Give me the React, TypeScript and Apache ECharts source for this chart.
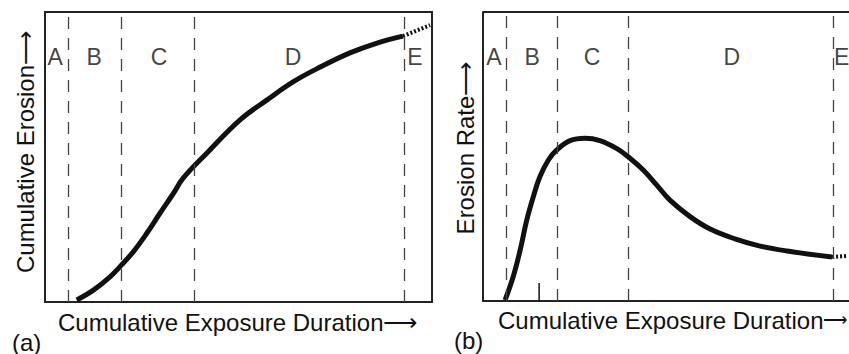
import React, { useEffect, useRef } from "react";
import * as echarts from "echarts";

// Panel (a): cumulative erosion curve (axis units 0..100)
const aCurveX = [8.2, 12.5, 16.8, 19.8, 22.8, 26.3, 29.7, 33.2, 35.7, 41.8, 50.4, 57.4, 64.1, 71.1, 78.8, 85.8, 92.5];
const aCurveY = [0.7, 4.1, 8.7, 12.8, 17.3, 23.7, 30.6, 37.5, 42.7, 51.3, 62.8, 69.7, 75.9, 81.0, 85.9, 89.3, 91.7];
const aTailX = [92.5, 99.5];
const aTailY = [91.7, 95.5];
const aBounds = [5.9, 19.6, 38.5, 92.8];
const aStageX = [2.6, 12.7, 29.5, 64.1, 95.6];
const stageY = 84.6;

// Panel (b): erosion rate curve (right part of the frame is cut off by the page edge)
const bCurveX = [5.7, 7.8, 9.6, 11.3, 13.0, 14.7, 16.9, 19.0, 22.5, 26.4, 30.2, 34.5, 37.5, 41.4, 44.9, 48.3, 53.5, 58.7, 65.1, 71.6, 78.6, 90.2];
const bCurveY = [0.3, 8.4, 17.6, 28.0, 36.1, 43.0, 48.8, 52.2, 55.5, 56.3, 55.5, 52.8, 49.9, 45.3, 40.1, 34.9, 29.2, 24.9, 21.5, 19.0, 17.3, 15.2];
const bTailX = [90.2, 94.1];
const bTailY = [15.2, 15.6];
const bBounds = [5.9, 19.1, 37.5, 90.4];
const bStageX = [2.8, 12.7, 28.2, 64.3, 92.7];
const bTickX = 14.5;
const bTickTop = 6.2;
const bVisibleMax = 94.57;

const stageNames = ["A", "B", "C", "D", "E"];

const FONT = "'Liberation Sans', Arial, Helvetica, sans-serif";
const INK = "#111";

function zip(xs: number[], ys: number[]) {
  return xs.map((x, i) => [x, ys[i]]);
}

export default function App() {
  const ref = useRef<HTMLDivElement>(null);
  useEffect(() => {
    if (!ref.current) return;
    const chart = echarts.init(ref.current, null, { renderer: "svg" });
    const baseAxis = {
      type: "value",
      min: 0,
      axisTick: { show: false },
      axisLabel: { show: false },
      splitLine: { show: false },
    };
    const dashLines = (bounds: number[]) => ({
      silent: true,
      symbol: "none",
      label: { show: false },
      lineStyle: { color: "#444", width: 1.3, type: [12, 9] },
      data: bounds.map((b) => ({ xAxis: b })),
    });
    const stageSeries = (xs: number[], idx: number) => ({
      type: "scatter",
      xAxisIndex: idx,
      yAxisIndex: idx,
      symbolSize: 0,
      silent: true,
      clip: false,
      data: xs.map((x, i) => ({ value: [x, stageY], name: stageNames[i] })),
      label: {
        show: true,
        position: "inside",
        formatter: "{b}",
        fontFamily: FONT,
        fontSize: 23,
        color: INK,
      },
    });
    chart.setOption({
      animation: false,
      grid: [
        { left: 45, top: 12, width: 387, height: 290, show: true, borderColor: "#222", borderWidth: 2, backgroundColor: "transparent" },
        { left: 483, top: 12, right: 0, height: 289, show: false },
      ],
      xAxis: [
        { ...baseAxis, max: 100, gridIndex: 0, axisLine: { show: false } },
        { ...baseAxis, max: bVisibleMax, gridIndex: 1, axisLine: { show: true, lineStyle: { color: "#222", width: 2 } } },
      ],
      yAxis: [
        { ...baseAxis, max: 100, gridIndex: 0, axisLine: { show: false } },
        { ...baseAxis, max: 100, gridIndex: 1, axisLine: { show: true, lineStyle: { color: "#222", width: 2 } } },
      ],
      series: [
        {
          type: "line",
          xAxisIndex: 0,
          yAxisIndex: 0,
          data: zip(aCurveX, aCurveY),
          smooth: 0.4,
          showSymbol: false,
          lineStyle: { color: INK, width: 5 },
          markLine: dashLines(aBounds),
        },
        {
          type: "line",
          xAxisIndex: 0,
          yAxisIndex: 0,
          data: zip(aTailX, aTailY),
          showSymbol: false,
          lineStyle: { color: INK, width: 4, type: [2, 2] },
        },
        stageSeries(aStageX, 0),
        {
          type: "line",
          xAxisIndex: 1,
          yAxisIndex: 1,
          data: zip(bCurveX, bCurveY),
          smooth: 0.4,
          showSymbol: false,
          lineStyle: { color: INK, width: 5 },
          markLine: dashLines(bBounds),
        },
        {
          type: "line",
          xAxisIndex: 1,
          yAxisIndex: 1,
          data: zip(bTailX, bTailY),
          showSymbol: false,
          lineStyle: { color: INK, width: 4, type: [2, 2] },
          markLine: {
            silent: true,
            symbol: "none",
            label: { show: false },
            lineStyle: { color: "#222", width: 2, type: "solid" },
            data: [{ yAxis: 100 }],
          },
        },
        {
          type: "line",
          xAxisIndex: 1,
          yAxisIndex: 1,
          data: [[bTickX, 0], [bTickX, bTickTop]],
          showSymbol: false,
          lineStyle: { color: INK, width: 1.5 },
        },
        stageSeries(bStageX, 1),
      ],
      graphic: [
        {
          type: "text",
          x: 25,
          y: 152,
          rotation: Math.PI / 2,
          style: { text: "Cumulative Erosion⟶", font: `24px ${FONT}`, fill: INK, textAlign: "center", textVerticalAlign: "middle" },
        },
        {
          type: "text",
          x: 58,
          y: 322,
          style: { text: "Cumulative Exposure Duration⟶", font: `24px ${FONT}`, fill: INK, textAlign: "left", textVerticalAlign: "middle" },
        },
        {
          type: "text",
          x: 12,
          y: 342,
          style: { text: "(a)", font: `24px ${FONT}`, fill: INK, textAlign: "left", textVerticalAlign: "middle" },
        },
        {
          type: "text",
          x: 465,
          y: 148,
          rotation: Math.PI / 2,
          style: { text: "Erosion Rate⟶", font: `24px ${FONT}`, fill: INK, textAlign: "center", textVerticalAlign: "middle" },
        },
        {
          type: "text",
          x: 498,
          y: 320,
          style: {
            text: "{t|Cumulative Exposure Duration}{r|⟶}",
            font: `24px ${FONT}`,
            fill: INK,
            textAlign: "left",
            textVerticalAlign: "middle",
            rich: {
              t: { fontSize: 24, fontFamily: FONT, fill: INK, color: INK },
              r: { fontSize: 17, fontFamily: FONT, fill: INK, color: INK },
            },
          },
        },
        {
          type: "text",
          x: 454,
          y: 340,
          style: { text: "(b)", font: `24px ${FONT}`, fill: INK, textAlign: "left", textVerticalAlign: "middle" },
        },
      ],
    });
    return () => chart.dispose();
  }, []);
  return (
    <div
      ref={ref}
      style={{ position: "fixed", left: 0, top: 0, width: 849, height: 354, background: "#fff" }}
    />
  );
}
